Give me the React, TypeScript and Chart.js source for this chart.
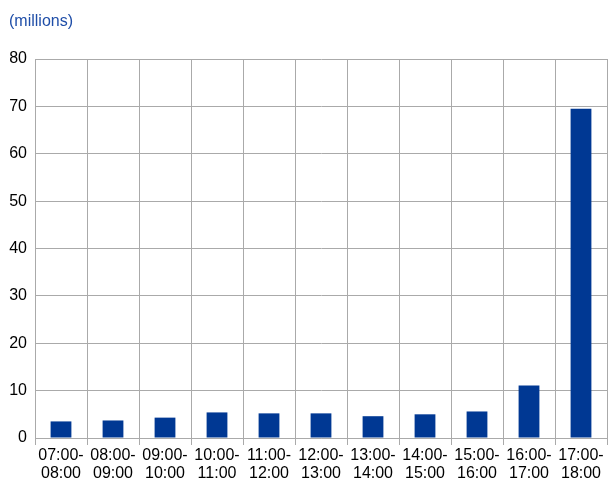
import React, { useEffect, useRef } from "react";
import { Chart, registerables } from "chart.js";

Chart.register(...registerables);

const categories: string[][] = [
  ["07:00-", "08:00"],
  ["08:00-", "09:00"],
  ["09:00-", "10:00"],
  ["10:00-", "11:00"],
  ["11:00-", "12:00"],
  ["12:00-", "13:00"],
  ["13:00-", "14:00"],
  ["14:00-", "15:00"],
  ["15:00-", "16:00"],
  ["16:00-", "17:00"],
  ["17:00-", "18:00"],
];
const values: number[] = [3.5, 3.7, 4.3, 5.4, 5.2, 5.2, 4.6, 5.0, 5.6, 11.1, 69.5];
const unitLabel = "(millions)";
const yMax = 80;
const yStep = 10;

export default function App() {
  const ref = useRef<HTMLCanvasElement | null>(null);
  useEffect(() => {
    document.body.style.margin = "0";
    if (!ref.current) return;
    const font = "'Liberation Sans', Arial, sans-serif";
    const chart = new Chart(ref.current, {
      type: "bar",
      data: {
        labels: categories,
        datasets: [
          {
            data: values,
            backgroundColor: "#003893",
            borderWidth: 0,
            barPercentage: 0.4,
            categoryPercentage: 1,
          },
        ],
      },
      options: {
        animation: false,
        responsive: false,
        layout: { padding: { left: 9, right: 1, top: 0, bottom: 0 } },
        plugins: {
          legend: { display: false },
          tooltip: { enabled: false },
          title: {
            display: true,
            text: unitLabel,
            align: "start",
            color: "#1f4ea8",
            font: { family: font, size: 16, weight: "normal", lineHeight: 1.2 },
            padding: { top: 12.4, bottom: 27.4 },
          },
        },
        scales: {
          x: {
            grid: { color: "#aaaaaa", offset: true, tickLength: 7, drawTicks: true },
            border: { color: "#aaaaaa" },
            ticks: {
              color: "#000",
              maxRotation: 0,
              autoSkip: false,
              padding: 2,
              font: { family: font, size: 16, lineHeight: 1.1 },
            },
            afterFit: (s: any) => {
              s.height = 42;
            },
          },
          y: {
            min: 0,
            max: yMax,
            grid: { color: "#aaaaaa", drawTicks: false },
            border: { color: "#aaaaaa" },
            ticks: {
              stepSize: yStep,
              color: "#000",
              padding: 8,
              font: { family: font, size: 16 },
            },
            afterFit: (s: any) => {
              s.width = 26;
            },
          },
        },
      },
    });
    return () => chart.destroy();
  }, []);
  return (
    <div style={{ width: 608, height: 480 }}>
      <canvas ref={ref} width={608} height={480} />
    </div>
  );
}
